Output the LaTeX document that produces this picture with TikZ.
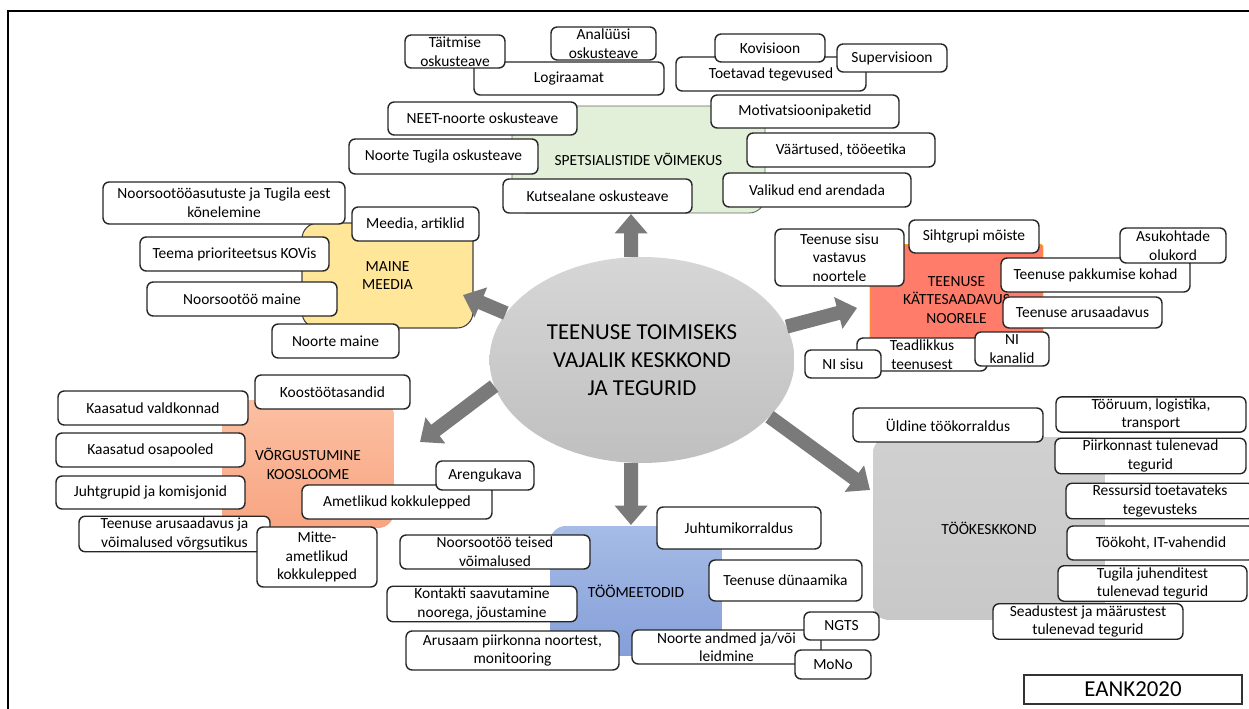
\documentclass[tikz,border=0pt]{standalone}
\usepackage{fontspec}
\setmainfont{Carlito}
\usetikzlibrary{arrows.meta,shapes.geometric,positioning}
\definecolor{specgreen}{HTML}{E2F0D9}
\definecolor{maineyellow}{HTML}{FFE699}
\definecolor{kaeissalmon}{HTML}{FF7C6A}
\definecolor{vorgtop}{HTML}{FBC0A2}
\definecolor{vorgbot}{HTML}{F8A582}
\definecolor{meettop}{HTML}{A6BCE6}
\definecolor{meetbot}{HTML}{859FD8}
\definecolor{tkkgray}{HTML}{C8C8C8}

\begin{document}
\begin{tikzpicture}[x=0.02cm,y=-0.02cm,
    item/.style={draw=black!85,fill=white,rounded corners=3.5pt,line width=0.8pt,
      align=center,inner sep=1pt,font=\fontsize{8.8}{10.6}\selectfont},
    area/.style={rounded corners=9pt,align=center,inner sep=0pt,
      font=\fontsize{8.8}{10.6}\selectfont},
    bigarrow/.style={line width=8pt,draw=black!52,-{Triangle[width=18pt,length=11pt]}}]
  \useasboundingbox (0,0) rectangle (1249,709);
  \draw[line width=1.2pt] (1249,11) -- (8,11) -- (8,709);

  \node[area,fill=specgreen,draw=black!60,line width=0.5pt,minimum width=5.06cm,minimum height=2.14cm] (spec) at (638.5,159.5) {SPETSIALISTIDE VÕIMEKUS};
  \node[area,fill=maineyellow,draw=black!75,line width=0.6pt,minimum width=3.42cm,minimum height=2.1cm] (maine) at (387.5,275.5) {MAINE\\MEEDIA};
  \node[area,rounded corners=1pt,fill=kaeissalmon,draw=orange!70!yellow,line width=0.5pt,minimum width=3.46cm,minimum height=1.9cm,
    label={[yshift=-4.5pt,align=center,font=\fontsize{8.8}{10.6}\selectfont]center:TEENUSE\\KÄTTESAADAVUS\\NOORELE}] (kaeis) at (956.5,292) {};
  \node[area,top color=vorgtop,bottom color=vorgbot,minimum width=3.44cm,minimum height=2.56cm] (vorg) at (308,464) {VÕRGUSTUMINE\\KOOSLOOME};
  \node[area,top color=meettop,bottom color=meetbot,minimum width=3.44cm,minimum height=2.6cm] (meet) at (636,591) {TÖÖMEETODID};
  \node[area,top color=tkkgray!85,bottom color=tkkgray,minimum width=4.64cm,minimum height=3.66cm] (tkk) at (989,528.5) {TÖÖKESKKOND};

  \node[ellipse,top color=black!16,bottom color=black!25,minimum width=6.1cm,minimum height=4.12cm,align=center,
    font=\fontsize{13}{16}\selectfont] (centre) at (642,360) {TEENUSE TOIMISEKS\\VAJALIK KESKKOND\\JA TEGURID};

  \coordinate (tspec) at (631,214);
  \coordinate (tmaine) at (463,295);
  \coordinate (tkaeis) at (857,308);
  \coordinate (tvorg) at (420,442);
  \coordinate (tmeet) at (631,525);
  \coordinate (ttkk) at (870,490);
  \draw[bigarrow] (centre.96) -- (tspec);
  \draw[bigarrow] (centre.161) -- (tmaine);
  \draw[bigarrow] (centre.13) -- (tkaeis);
  \draw[bigarrow] (centre.190) -- (tvorg);
  \draw[bigarrow] (centre.264) -- (tmeet);
  \draw[bigarrow] (centre.336) -- (ttkk);

  \node[item,minimum width=3.8cm,minimum height=0.66cm] (logi) at (569,78.5) {Logiraamat};
  \node[item,minimum width=2cm,minimum height=0.66cm] (taitm) at (455,51.5) {Täitmise\\oskusteave};
  \node[item,minimum width=2.1cm,minimum height=0.66cm] (analyysi) at (603.5,43.5) {Analüüsi\\oskusteave};
  \node[item,minimum width=3.8cm,minimum height=0.68cm] (toetavad) at (771,74) {Toetavad tegevused};
  \node[item,minimum width=2.2cm,minimum height=0.56cm] (kovis) at (770,48) {Kovisioon};
  \node[item,minimum width=2.2cm,minimum height=0.56cm] (superv) at (892,58) {Supervisioon};
  \node[item,minimum width=3.78cm,minimum height=0.66cm] (neet) at (482.5,118.5) {NEET-noorte oskusteave};
  \node[item,minimum width=3.78cm,minimum height=0.7cm] (tugila) at (443.5,156.5) {Noorte Tugila oskusteave};
  \node[item,minimum width=3.78cm,minimum height=0.68cm] (kutse) at (597.5,196) {Kutsealane oskusteave};
  \node[item,minimum width=3.76cm,minimum height=0.66cm] (motiv) at (805,111.5) {Motivatsioonipaketid};
  \node[item,minimum width=3.76cm,minimum height=0.68cm] (vaart) at (841,150) {Väärtused, tööeetika};
  \node[item,minimum width=3.76cm,minimum height=0.68cm] (valik) at (817,190) {Valikud end arendada};

  \node[item,minimum width=4.84cm,minimum height=0.84cm] (kone) at (224,203) {Noorsootööasutuste ja Tugila eest\\kõnelemine};
  \node[item,minimum width=2.54cm,minimum height=0.68cm] (meedia) at (415.5,224) {Meedia, artiklid};
  \node[item,minimum width=3.78cm,minimum height=0.68cm] (kov) at (234.5,254) {Teema prioriteetsus KOVis};
  \node[item,minimum width=3.8cm,minimum height=0.68cm] (nmaine) at (242,299) {Noorsootöö maine};
  \node[item,minimum width=2.54cm,minimum height=0.68cm] (noormaine) at (335.5,341) {Noorte maine};

  \node[item,minimum width=2.58cm,minimum height=1.14cm] (sisu) at (839.5,257.5) {Teenuse sisu\\vastavus\\noortele};
  \node[item,minimum width=2.6cm,minimum height=0.66cm] (siht) at (974,236.5) {Sihtgrupi mõiste};
  \node[item,minimum width=3.78cm,minimum height=0.68cm] (pakk) at (1095.5,275) {Teenuse pakkumise kohad};
  \node[item,minimum width=2.12cm,minimum height=0.7cm] (asuk) at (1173,245.5) {Asukohtade\\olukord};
  \node[item,minimum width=3.18cm,minimum height=0.62cm] (arus) at (1082.5,312.5) {Teenuse arusaadavus};
  \node[item,minimum width=2.6cm,minimum height=0.66cm] (teadl) at (922,354.5) {Teadlikkus\\teenusest};
  \node[item,minimum width=1.52cm,minimum height=0.56cm] (nisisu) at (843,364) {NI sisu};
  \node[item,minimum width=1.48cm,minimum height=0.68cm] (nikan) at (1012,349) {NI\\kanalid};

  \node[item,minimum width=3.1cm,minimum height=0.68cm] (koost) at (332.5,392) {Koostöötasandid};
  \node[item,minimum width=3.8cm,minimum height=0.68cm] (kvald) at (153,408) {Kaasatud valdkonnad};
  \node[item,minimum width=3.78cm,minimum height=0.68cm] (kosap) at (150.5,450) {Kaasatud osapooled};
  \node[item,minimum width=3.78cm,minimum height=0.66cm] (juht) at (150.5,492.5) {Juhtgrupid ja komisjonid};
  \node[item,minimum width=3.82cm,minimum height=0.68cm] (tarus) at (174.5,534) {Teenuse arusaadavus ja\\võimalused võrgsutikus};
  \node[item,minimum width=2.4cm,minimum height=1.2cm] (mitte) at (317,557) {Mitte-\\ametlikud\\kokkulepped};
  \node[item,minimum width=3.8cm,minimum height=0.68cm] (ametl) at (397,502) {Ametlikud kokkulepped};
  \node[item,minimum width=1.96cm,minimum height=0.58cm] (areng) at (485,475.5) {Arengukava};

  \node[item,minimum width=3.28cm,minimum height=0.84cm] (juhtum) at (739,528) {Juhtumikorraldus};
  \node[item,minimum width=3.8cm,minimum height=0.68cm] (teised) at (495,552) {Noorsootöö teised\\võimalused};
  \node[item,minimum width=3.06cm,minimum height=0.82cm] (dyn) at (785.5,580.5) {Teenuse dünaamika};
  \node[item,minimum width=3.8cm,minimum height=0.68cm] (kontakt) at (482,604) {Kontakti saavutamine\\noorega, jõustamine};
  \node[item,minimum width=4.26cm,minimum height=0.78cm] (arusaam) at (512.5,650.5) {Arusaam piirkonna noortest,\\monitooring};
  \node[item,minimum width=3.78cm,minimum height=0.68cm] (andmed) at (726.5,647) {Noorte andmed ja/või\\leidmine};
  \node[item,minimum width=1.5cm,minimum height=0.56cm] (ngts) at (841.5,626) {NGTS};
  \node[item,minimum width=1.52cm,minimum height=0.58cm] (mono) at (833,664.5) {MoNo};

  \node[item,minimum width=3.8cm,minimum height=0.68cm] (yldine) at (948,425) {Üldine töökorraldus};
  \node[item,minimum width=3.8cm,minimum height=0.7cm] (tooruum) at (1151,414.5) {Tööruum, logistika,\\transport};
  \node[item,minimum width=3.82cm,minimum height=0.68cm] (piirk) at (1150.5,456) {Piirkonnast tulenevad\\tegurid};
  \node[item,minimum width=3.76cm,minimum height=0.68cm] (ressurs) at (1160,501) {Ressursid toetavateks\\tegevusteks};
  \node[item,minimum width=3.76cm,minimum height=0.68cm] (tookoht) at (1161,543) {Töökoht, IT-vahendid};
  \node[item,minimum width=3.78cm,minimum height=0.7cm] (tugjuh) at (1152.5,583.5) {Tugila juhenditest\\tulenevad tegurid};
  \node[item,minimum width=3.8cm,minimum height=0.7cm] (seadus) at (1088,621.5) {Seadustest ja määrustest\\tulenevad tegurid};

  \node[draw=black!80,line width=0.8pt,minimum width=4.36cm,minimum height=0.58cm,inner sep=0pt,
    font=\fontsize{13}{15}\selectfont] (eank) at (1133,689.5) {EANK2020};
\end{tikzpicture}
\end{document}
